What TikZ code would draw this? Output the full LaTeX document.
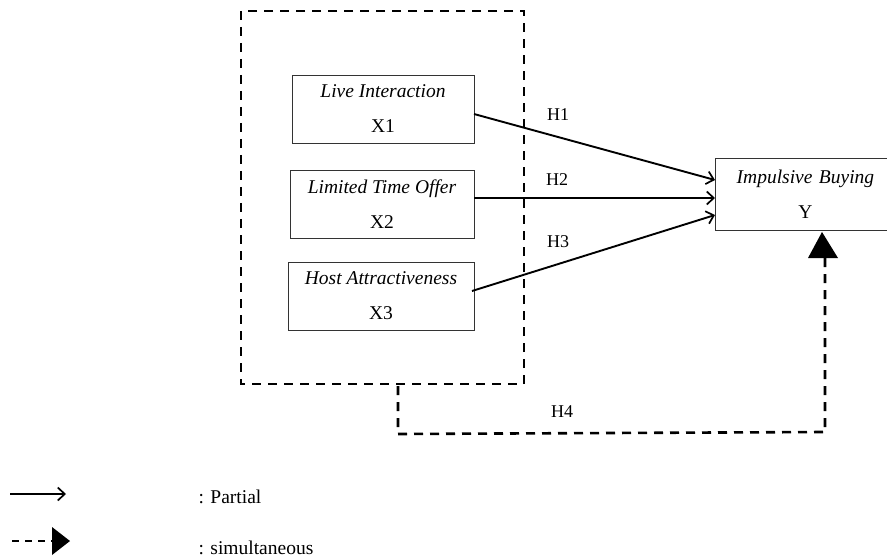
\documentclass[tikz,border=0pt]{standalone}
\usepackage{fontspec}
\setmainfont{Liberation Serif}
\usetikzlibrary{arrows.meta}
\begin{document}
\begin{tikzpicture}[x=1pt,y=-1pt,
  varbox/.style={draw=black!80,line width=0.9pt,minimum height=68pt,inner sep=0pt,align=center,font=\fontsize{19.5}{35}\selectfont},
  partial/.style={line width=1.9pt,-{Straight Barb[length=7pt,width=13pt,line width=1.7pt]}},
  simul/.style={line width=2.6pt,dash pattern=on 9pt off 7pt},
  lbl/.style={font=\fontsize{18}{20}\selectfont},
  leg/.style={font=\fontsize{19.5}{22}\selectfont,anchor=west}]
\useasboundingbox (0,0) rectangle (887,559);
% grouping frame around the independent variables
\draw[simul] (241,11) rectangle (524,384);
% variables
\node[varbox,minimum width=182pt] (x1) at (383,109) {\textit{Live Interaction}\\X1};
\node[varbox,minimum width=184pt] (x2) at (382,204.5) {\textit{Limited Time Offer}\\X2};
\node[varbox,minimum width=186pt] (x3) at (381,296) {\textit{Host Attractiveness}\\X3};
\node[varbox,minimum width=180pt,minimum height=72pt,anchor=north west,text width=172pt] (y) at (715,158) {\textit{Impulsive Buying}\\Y};
% partial effects
\draw[partial] (474,114) -- (y.west |- 0,180);
\draw[partial] (474,198) -- (y.west |- 0,198);
\draw[partial] (472,291) -- (y.west |- 0,215);
\node[lbl] (h1) at (558,115) {H1};
\node[lbl] (h2) at (557,180) {H2};
\node[lbl] (h3) at (558,242) {H3};
% simultaneous effect
\coordinate (s0) at (398,386);
\coordinate (s1) at (398,434);
\coordinate (s2) at (825,432);
\coordinate (s3) at (825,258);
\draw[simul] (s0) -- (s1) -- (s2) -- (s3);
\fill (808,258) -- (838,258) -- (822,232) -- cycle;
\node[lbl] (h4) at (562,412) {H4};
% legend
\coordinate (la) at (10,494);
\coordinate (lb) at (66,494);
\draw[partial] (la) -- (lb);
\node[leg] (lp) at (195,497) {: Partial};
\coordinate (lc) at (12,541);
\coordinate (ld) at (52,541);
\draw[simul,dash pattern=on 7pt off 6pt] (lc) -- (ld);
\fill (52,527) -- (70,541) -- (52,555) -- cycle;
\node[leg] (ls) at (195,548) {: simultaneous};
\end{tikzpicture}
\end{document}
